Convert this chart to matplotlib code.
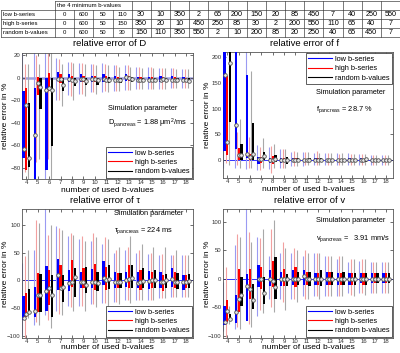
import numpy as np
import matplotlib
matplotlib.use('Agg')
import matplotlib.pyplot as plt
from matplotlib.lines import Line2D

plt.rcParams['font.family'] = ['Liberation Sans', 'DejaVu Sans']

# table data
row_labels = ['low b-series', 'high b-series', 'random b-values']
table_header = 'the 4 minimum b-values'
low_bvals = [0, 600, 50, 110, 30, 10, 350, 2, 65, 200, 150, 20, 85, 450, 7, 40, 250, 550]
high_bvals = [0, 600, 50, 150, 350, 20, 10, 450, 250, 85, 30, 2, 200, 550, 110, 65, 40, 7]
rand_bvals = [0, 600, 50, 30, 150, 110, 350, 550, 2, 10, 200, 85, 20, 250, 40, 65, 450, 7]

n_used = np.arange(4, 19)
series_names = ['low b-series', 'high b-series', 'random b-values']

# relative error of D  (hi whisker, q3, median, q1, lo whisker)
D_low = dict(
    hi=[30, 30, 30, 18, 14, 13, 12, 13, 11, 11, 10, 10, 9, 9, 8],
    q3=[-12, -9, 0, 5, 3, 3, 2, 3, 2, 3, 1, 1, 2, 2, 1],
    med=[-63, -51, -11, -1, -1, -1, -1, -1, -2, 1, -2, -2, -2, -2, -2],
    q1=[-71, -95, -82, -3, -4, -4, -4, -4, -4, -3, -3, -3, -4, -3, -3],
    lo=[-95, -95, -95, -20, -15, -14, -13, -13, -12, -11, -10, -10, -10, -9, -9])
D_high = dict(
    hi=[12, 20, 22, 17, 14, 13, 12, 12, 11, 11, 10, 10, 9, 9, 8],
    q3=[-9, 1, 4, 3, 2, 2, 2, 2, 1, 2, 1, 1, 1, 1, 0],
    med=[-24, -5, -9, -1, -2, -1, -1, -2, -2, 0, -2, -2, -1, -2, -2],
    q1=[-82, -15, -12, -5, -4, -4, -4, -4, -4, -3, -3, -3, -3, -3, -3],
    lo=[-84, -75, -72, -20, -16, -14, -13, -12, -12, -11, -10, -10, -10, -9, -9])
D_rand = dict(
    hi=[12, 12, 30, 12, 13, 12, 11, 11, 10, 10, 9, 9, 9, 8, 8],
    q3=[-22, 0, 0, 0, 0, 0, 0, 1, 0, 1, 0, 0, 0, 0, 0],
    med=[-71, -8, -11, -6, -3, -3, -2, -2, -2, -1, -2, -2, -2, -2, -3],
    q1=[-79, -28, -61, -12, -7, -6, -6, -5, -5, -4, -4, -4, -4, -4, -4],
    lo=[-90, -72, -95, -25, -20, -16, -14, -13, -12, -11, -10, -10, -10, -9, -9])

# relative error of f
f_low = dict(
    hi=[260, 260, 260, 30, 25, 22, 15, 15, 14, 13, 13, 14, 12, 10, 10],
    q3=[260, 260, 165, 5, 4, 4, 3, 2, 3, 2, 2, 3, 3, 2, 2],
    med=[165, 68, 12, 2, 0, 0, 0, 0, 0, 0, 0, 0, 0, 0, 0],
    q1=[18, 22, 3, -7, -5, -5, -4, -4, -3, -3, -3, -3, -3, -3, -3],
    lo=[-15, -15, -18, -20, -18, -15, -12, -12, -10, -10, -10, -10, -10, -9, -9])
f_high = dict(
    hi=[170, 55, 45, 25, 28, 22, 18, 15, 18, 13, 12, 12, 12, 10, 10],
    q3=[163, 24, 12, 5, 7, 4, 3, 2, 3, 2, 2, 2, 2, 2, 2],
    med=[35, 9, 6, 2, 0, 0, 0, 0, 0, 0, 0, 0, 0, 0, 0],
    q1=[9, 0, 0, -6, -8, -4, -3, -3, -3, -3, -3, -3, -3, -3, -3],
    lo=[-5, -10, -15, -20, -25, -15, -12, -10, -10, -10, -10, -10, -10, -9, -9])
f_rand = dict(
    hi=[260, 80, 173, 42, 32, 22, 16, 15, 14, 13, 13, 12, 12, 10, 10],
    q3=[260, 31, 72, 15, 10, 5, 3, 3, 3, 2, 2, 2, 3, 2, 2],
    med=[189, 9, 12, 7, 2, 0, 0, 0, 0, 0, 0, 0, 1, 0, 0],
    q1=[73, 0, 0, 0, -4, -7, -4, -3, -3, -3, -3, -3, -3, -3, -3],
    lo=[-10, -15, -15, -15, -15, -15, -12, -10, -10, -10, -10, -10, -10, -9, -9])

# relative error of tau
t_low = dict(
    hi=[31, 55, 140, 97, 80, 75, 70, 65, 50, 55, 50, 48, 45, 45, 45],
    q3=[-28, -11, 26, 38, 19, 16, 20, 34, 16, 16, 16, 17, 16, 22, 10],
    med=[-67, -55, -19, 10, -4, -3, -3, 5, -3, 0, -4, -1, -2, 3, -2],
    q1=[-71, -65, -55, -17, -19, -14, -14, -8, -14, -11, -14, -16, -14, -11, -17],
    lo=[-100, -80, -62, -55, -45, -45, -42, -40, -38, -35, -35, -35, -32, -30, -30])
t_high = dict(
    hi=[43, 109, 82, 94, 85, 80, 85, 78, 55, 60, 55, 50, 48, 45, 45],
    q3=[-22, 13, 19, 28, 37, 23, 29, 25, 13, 28, 19, 16, 10, 16, 10],
    med=[-60, -26, -14, -14, -2, -2, -2, 1, -3, 3, -2, 0, -2, -3, -2],
    q1=[-65, -57, -44, -17, -11, -14, -17, -17, -14, -14, -17, -14, -19, -14, -14],
    lo=[-105, -75, -70, -60, -48, -45, -42, -40, -38, -35, -35, -35, -32, -30, -30])
t_rand = dict(
    hi=[55, 103, 100, 90, 82, 70, 78, 75, 60, 80, 65, 60, 60, 55, 45],
    q3=[-16, 11, 10, 10, 23, 24, 16, 28, 13, 28, 22, 19, 12, 13, 12],
    med=[-57, -26, -26, -11, 7, -8, -4, 2, -2, 5, -1, 1, 0, -2, -1],
    q1=[-60, -57, -65, -38, -29, -22, -19, -16, -14, -14, -14, -14, -14, -16, -14],
    lo=[-68, -80, -85, -62, -55, -55, -48, -45, -42, -40, -35, -35, -32, -30, -30])

# relative error of v
v_low = dict(
    hi=[-6, 59, 140, 74, 41, 45, 45, 40, 45, 40, 35, 30, 32, 30, 30],
    q3=[-47, -28, 9, 24, 15, 12, 15, 15, 10, 12, 10, 10, 10, 10, 10],
    med=[-76, -58, -12, 0, 0, 0, 0, 5, 0, 0, 0, 0, 0, 0, 0],
    q1=[-81, -78, -74, -15, -12, -12, -10, -10, -10, -10, -10, -10, -8, -8, -8],
    lo=[-91, -88, -70, -65, -35, -35, -35, -30, -30, -30, -30, -25, -25, -25, -25])
v_high = dict(
    hi=[21, 79, 82, 72, 88, 65, 55, 50, 45, 40, 40, 35, 35, 30, 30],
    q3=[-38, 18, 18, 21, 32, 18, 21, 12, 10, 12, 10, 10, 10, 10, 10],
    med=[-56, -35, -18, 0, -3, 0, 0, 0, 0, 0, 0, 0, 0, 0, 0],
    q1=[-76, -59, -35, -18, -15, -12, -15, -10, -10, -10, -10, -10, -10, -8, -8],
    lo=[-103, -85, -80, -55, -50, -40, -35, -35, -30, -30, -30, -28, -25, -25, -25])
v_rand = dict(
    hi=[-47, 74, 65, 88, 103, 55, 50, 45, 45, 40, 40, 35, 35, 30, 30],
    q3=[-62, 3, -9, 3, 38, 9, 12, 12, 15, 12, 12, 10, 10, 10, 10],
    med=[-71, -29, -38, -24, -15, 0, 0, 0, 0, 0, 0, 0, 0, 0, 0],
    q1=[-74, -47, -53, -44, -35, -12, -10, -12, -12, -10, -10, -10, -10, -8, -8],
    lo=[-79, -88, -85, -60, -59, -55, -40, -35, -35, -30, -30, -30, -28, -25, -25])

box_colors = ['#0000ff', '#ff0000', '#000000']
whisk_colors = ['#9a9af2', '#f2a0a0', '#a8a8a8']
box_offsets = [-0.24, 0.0, 0.24]
whisk_shift = -0.12


def draw_panel(ax, series, ylim, yticks, zero_style, xlab_px):
    ax.axhline(0, zorder=1, **zero_style)
    for k, s in enumerate(series):
        xs = n_used + box_offsets[k]
        ax.vlines(xs + whisk_shift, s['lo'], s['hi'], color=whisk_colors[k], lw=0.8, zorder=2)
        q1 = np.array(s['q1'])
        q3 = np.array(s['q3'])
        ax.bar(xs, q3 - q1, bottom=q1, width=0.2, color=box_colors[k], zorder=3)
        ax.plot(xs, s['med'], 'o', ms=2.6, mfc='#e8e8e8', mec='#505050', mew=0.6, zorder=4)
    ax.set_xlim(3.62, 18.6)
    ax.set_ylim(*ylim)
    ax.set_xticks(n_used)
    ax.set_yticks(yticks)
    ax.tick_params(direction='in', length=2, width=0.5, labelsize=4.3, pad=1,
                   top=True, right=True, colors='#333333')
    for sp in ax.spines.values():
        sp.set_linewidth(0.6)
        sp.set_color('#555555')
    h_ax = ax.get_position().height * 353
    ax.set_xlabel('number of used b-values', fontsize=6)
    ax.xaxis.set_label_coords(0.5, -xlab_px / h_ax)
    ax.xaxis.label.set_va('center')
    ax.set_ylabel('relative error in %', fontsize=6)
    ax.yaxis.set_label_coords(-16 / 171, 0.5)
    ax.yaxis.label.set_va('center')
    handles = [Line2D([], [], color=c, lw=0.8) for c in box_colors]
    return handles


fig = plt.figure(figsize=(4.0, 3.53), dpi=100)

# table at the top
axt = fig.add_axes([0, 1 - 38 / 353, 1, 38 / 353])
axt.set_xlim(0, 400)
axt.set_ylim(38, 0)
axt.axis('off')
col0 = 55
cw = (400 - col0) / 18
rows_y = [1, 10, 19, 28, 37]
lc = '#444444'
# header row
axt.plot([col0, 400], [rows_y[0], rows_y[0]], color=lc, lw=0.5)
axt.text(col0 + 2, (rows_y[0] + rows_y[1]) / 2, table_header, fontsize=4.3, va='center', ha='left')
for i in [0] + list(range(4, 19)):
    xv = col0 + i * cw
    axt.plot([xv, xv], [rows_y[0], rows_y[1]], color=lc, lw=0.5)
for yv in rows_y[1:]:
    axt.plot([0.5, 399.5], [yv, yv], color=lc, lw=0.5)
for xv in [0.5, 399.5]:
    axt.plot([xv, xv], [rows_y[1], rows_y[4]], color=lc, lw=0.5)
for i in range(19):
    xv = col0 + i * cw
    axt.plot([xv, xv], [rows_y[1], rows_y[4]], color=lc, lw=0.5)
for r, (lab, vals) in enumerate(zip(row_labels, [low_bvals, high_bvals, rand_bvals])):
    yc = (rows_y[r + 1] + rows_y[r + 2]) / 2
    axt.text(3, yc, lab, fontsize=4.3, va='center', ha='left')
    for i, v in enumerate(vals):
        axt.text(col0 + (i + 0.5) * cw, yc, str(v), fontsize=4.3 if i < 4 else 5.2,
                 va='center', ha='center')

ax_D = fig.add_axes([22 / 400, 1 - 179 / 353, 171 / 400, 126 / 353])
ax_f = fig.add_axes([223 / 400, 1 - 178 / 353, 170 / 400, 126 / 353])
ax_t = fig.add_axes([22 / 400, 1 - 338 / 353, 171 / 400, 129 / 353])
ax_v = fig.add_axes([223 / 400, 1 - 338 / 353, 170 / 400, 129 / 353])

thin_zero = dict(color='#3030ff', lw=0.7)
h = draw_panel(ax_D, [D_low, D_high, D_rand], (-90, 22), [-80, -60, -40, -20, 0, 20],
               dict(color='#a0a0dd', lw=1.8), 11.5)
draw_panel(ax_f, [f_low, f_high, f_rand], (-35, 210), [0, 50, 100, 150, 200], thin_zero, 11.5)
draw_panel(ax_t, [t_low, t_high, t_rand], (-103, 128), [-100, -50, 0, 50, 100], thin_zero, 9.5)
draw_panel(ax_v, [v_low, v_high, v_rand], (-104, 123), [-100, -50, 0, 50, 100], thin_zero, 9.5)

leg_kw = dict(fontsize=5.3, handlelength=3.2, handletextpad=0.4, borderpad=0.35,
              labelspacing=0.3, fancybox=False, edgecolor='#444444', framealpha=1)
for ax, loc in [(ax_D, 'lower right'), (ax_f, 'upper right'),
                (ax_t, 'lower right'), (ax_v, 'lower right')]:
    lg = ax.legend(h, series_names, loc=loc, borderaxespad=0.15, **leg_kw)
    lg.get_frame().set_linewidth(0.6)

fig.text(110 / 400, 1 - 44 / 353, 'relative error of D', fontsize=6.8, ha='center', va='center')
fig.text(305 / 400, 1 - 44 / 353, 'relative error of f', fontsize=6.8, ha='center', va='center')
fig.text(105 / 400, 1 - 201 / 353, 'relative error of τ', fontsize=6.8, ha='center', va='center')
fig.text(310 / 400, 1 - 201 / 353, 'relative error of v', fontsize=6.8, ha='center', va='center')

tk = dict(fontsize=5.3, ha='left', va='center')
ax_D.text(0.50, 0.56, 'Simulation parameter', transform=ax_D.transAxes, **tk)
ax_D.text(0.50, 0.44, r'D$_{\mathregular{pancreas}}$ = 1.88 μm$^{\mathregular{2}}$/ms',
          transform=ax_D.transAxes, **tk)
ax_f.text(0.55, 0.675, 'Simulation parameter', transform=ax_f.transAxes, **tk)
ax_f.text(0.55, 0.54, r'f$_{\mathregular{pancreas}}$ = 28.7 %', transform=ax_f.transAxes, **tk)
ax_t.text(0.54, 0.965, 'Simulation parameter', transform=ax_t.transAxes, **tk)
ax_t.text(0.54, 0.83, r'τ$_{\mathregular{pancreas}}$ = 224 ms', transform=ax_t.transAxes, **tk)
ax_v.text(0.55, 0.91, 'Simulation parameter', transform=ax_v.transAxes, **tk)
ax_v.text(0.55, 0.77, r'v$_{\mathregular{pancreas}}$ =   3.91 mm/s', transform=ax_v.transAxes, **tk)

fig.savefig('out.png', dpi=100)
